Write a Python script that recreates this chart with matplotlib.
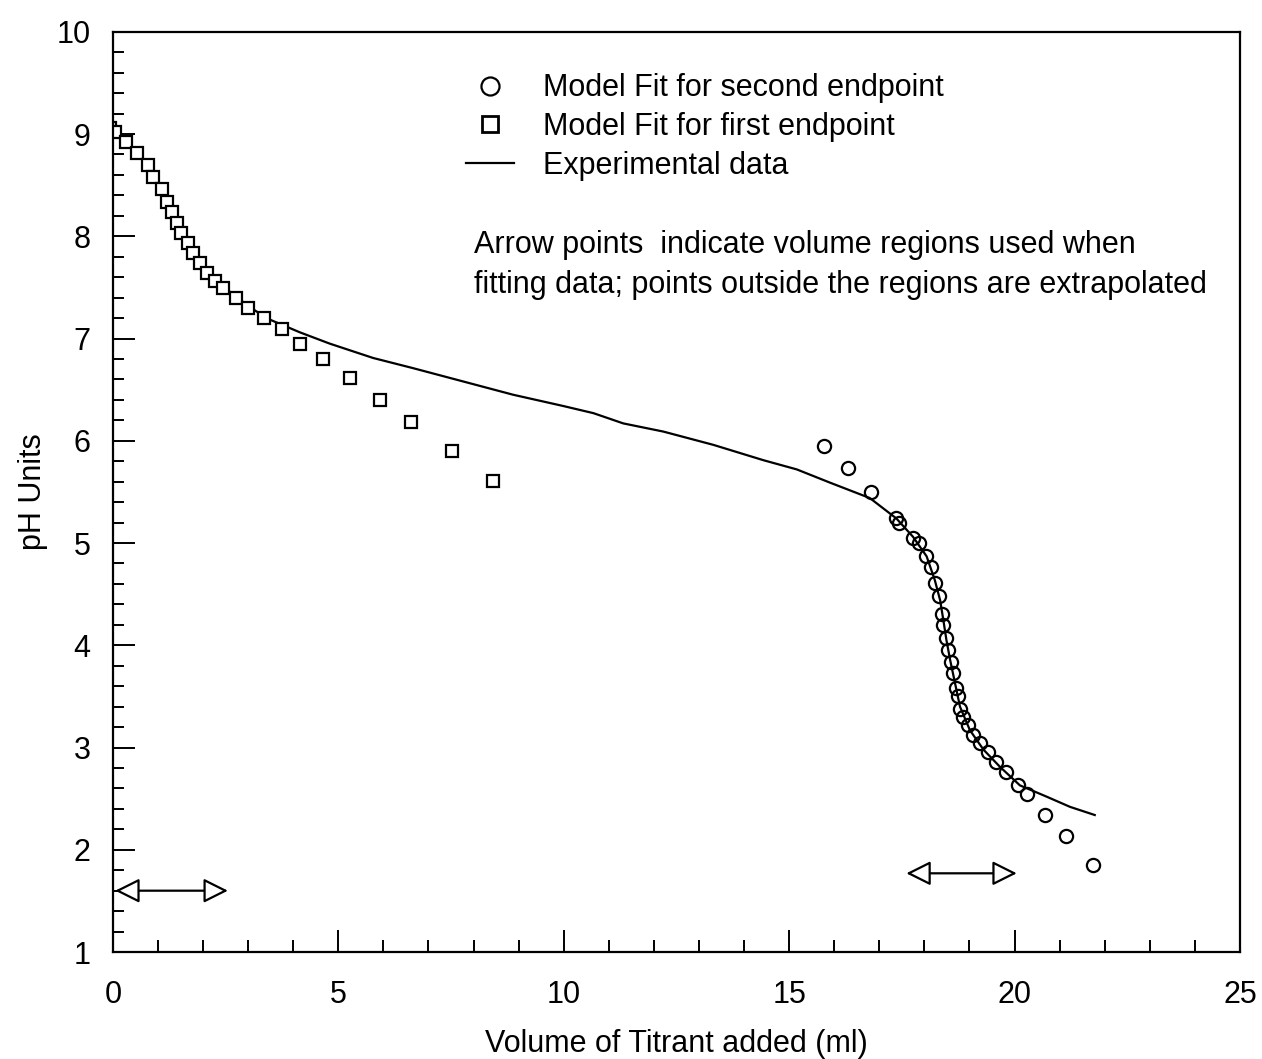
import matplotlib.pyplot as plt
from matplotlib.lines import Line2D

# experimental titration curve
exp_volume = [0.0, 0.3, 0.55, 0.8, 1.1, 1.4, 1.7, 2.0, 2.3, 2.7, 3.0, 3.4,
              4.15, 4.81, 5.77, 6.66, 7.77, 8.88, 9.99, 10.66, 11.32, 12.21,
              13.32, 14.43, 15.17, 15.91, 16.79, 17.38, 17.75, 18.05, 18.23,
              18.35, 18.42, 18.49, 18.57, 18.68, 18.79, 19.01, 19.31, 19.68,
              20.12, 20.71, 21.23, 21.78]
exp_ph = [9.06, 8.93, 8.80, 8.68, 8.45, 8.16, 7.90, 7.70, 7.56, 7.42, 7.32, 7.20,
          7.06, 6.95, 6.81, 6.71, 6.58, 6.45, 6.34, 6.27, 6.17, 6.09,
          5.96, 5.81, 5.72, 5.59, 5.44, 5.24, 5.06, 4.87, 4.64,
          4.44, 4.25, 4.05, 3.86, 3.63, 3.40, 3.17, 2.98, 2.81,
          2.63, 2.52, 2.42, 2.34]

# model fit, first endpoint (squares)
first_volume = [-0.07, 0.04, 0.30, 0.54, 0.78, 0.89, 1.08, 1.19, 1.30, 1.41,
                1.52, 1.67, 1.78, 1.93, 2.08, 2.26, 2.45, 2.74, 3.00, 3.34,
                3.74, 4.15, 4.66, 5.26, 5.93, 6.62, 7.52, 8.44]
first_ph = [9.06, 9.02, 8.92, 8.81, 8.70, 8.58, 8.46, 8.34, 8.24, 8.13,
            8.03, 7.93, 7.84, 7.74, 7.64, 7.56, 7.49, 7.40, 7.30, 7.20,
            7.09, 6.95, 6.80, 6.61, 6.40, 6.18, 5.90, 5.61]

# model fit, second endpoint (circles)
second_volume = [15.78, 16.31, 16.81, 17.37, 17.43, 17.75, 17.87, 18.03, 18.14,
                 18.23, 18.33, 18.40, 18.42, 18.47, 18.53, 18.58, 18.63, 18.70,
                 18.75, 18.79, 18.86, 18.97, 19.07, 19.23, 19.42, 19.60, 19.82,
                 20.08, 20.27, 20.67, 21.15, 21.75]
second_ph = [5.95, 5.73, 5.50, 5.24, 5.20, 5.05, 5.00, 4.87, 4.77,
             4.61, 4.48, 4.31, 4.20, 4.07, 3.95, 3.84, 3.73, 3.58,
             3.50, 3.38, 3.30, 3.22, 3.12, 3.04, 2.96, 2.86, 2.76,
             2.63, 2.55, 2.34, 2.13, 1.85]

# fitting regions shown by double arrows: (start, end, pH level)
regions = [(0.05, 2.55, 1.60), (17.6, 20.05, 1.77)]

plt.rcParams["font.family"] = ["Liberation Sans", "DejaVu Sans"]
FS = 22

fig = plt.figure(figsize=(12.62, 10.59), dpi=100)
ax = fig.add_axes([0.0895, 0.101, 0.893, 0.869])

ax.plot(exp_volume, exp_ph, color="black", lw=1.6)
ax.plot(first_volume, first_ph, ls="none", marker="s", ms=8.2,
        mfc="white", mec="black", mew=1.6)
ax.plot(second_volume, second_ph, ls="none", marker="o", ms=9.5,
        mfc="none", mec="black", mew=1.6)

for x0, x1, yy in regions:
    ax.annotate("", xy=(x0, yy), xytext=(x1, yy),
                arrowprops=dict(arrowstyle="<|-|>,head_length=1.5,head_width=0.75",
                                fc="white", ec="black", lw=1.6,
                                shrinkA=0, shrinkB=0))

ax.set_xlim(0, 25)
ax.set_ylim(1, 10)
ax.set_xticks(range(0, 26, 5))
ax.set_xticks(range(0, 26), minor=True)
ax.set_yticks(range(1, 11))
ax.set_yticks([1 + 0.2 * i for i in range(46)], minor=True)
ax.tick_params(which="both", direction="in", top=False, right=False,
               labelsize=FS, width=1.4)
ax.tick_params(axis="x", which="major", length=16, pad=20)
ax.tick_params(axis="x", which="minor", length=9)
ax.tick_params(axis="y", which="major", length=16, pad=16)
ax.tick_params(axis="y", which="minor", length=8)
for sp in ax.spines.values():
    sp.set_linewidth(1.6)

ax.set_xlabel("Volume of Titrant added (ml)", fontsize=FS, labelpad=14)
ax.set_ylabel("pH Units", fontsize=FS, labelpad=6)

handles = [
    Line2D([], [], ls="none", marker="o", ms=13, mfc="none", mec="black", mew=1.6),
    Line2D([], [], ls="none", marker="s", ms=11.5, mfc="white", mec="black", mew=2),
    Line2D([], [], color="black", lw=1.6),
]
labels = ["Model Fit for second endpoint", "Model Fit for first endpoint",
          "Experimental data"]
ax.legend(handles, labels, loc="upper left", bbox_to_anchor=(0.294, 0.978),
          frameon=False, fontsize=FS, handlelength=1.57, handletextpad=0.95,
          labelspacing=0.28, borderpad=0.2)

ax.text(0.32, 0.785,
        "Arrow points  indicate volume regions used when\n"
        "fitting data; points outside the regions are extrapolated",
        transform=ax.transAxes, fontsize=FS, va="top", ha="left",
        linespacing=1.45)

fig.savefig("out.png", dpi=100)
